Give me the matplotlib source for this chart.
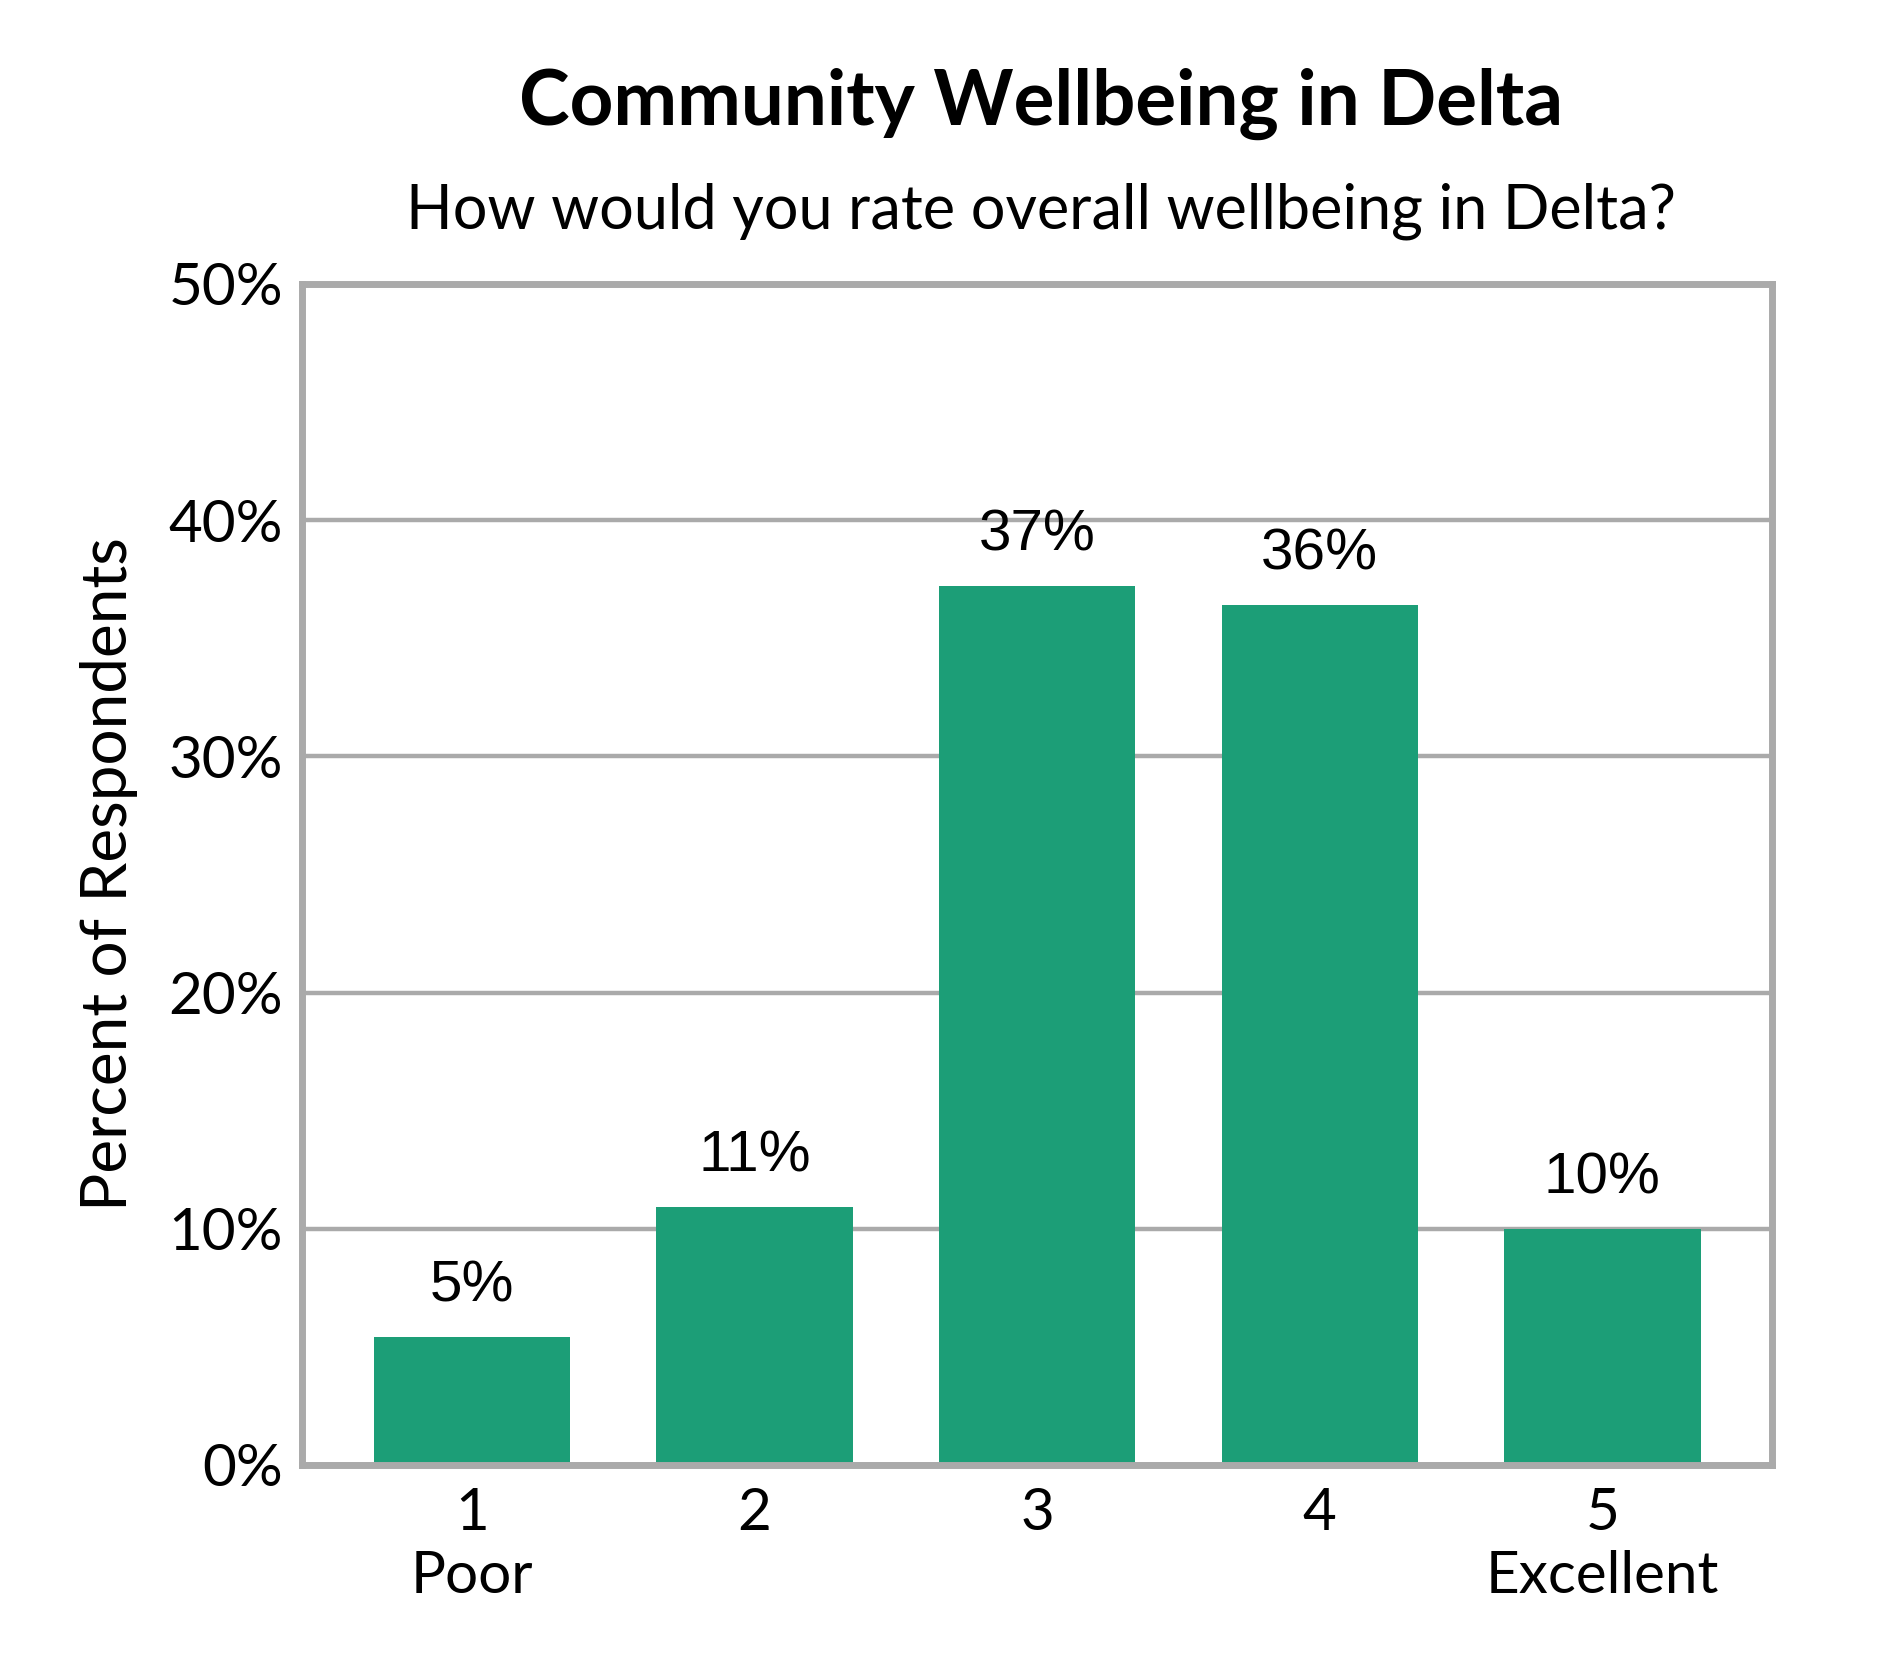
import matplotlib.pyplot as plt
from matplotlib.ticker import PercentFormatter

ratings = [1, 2, 3, 4, 5]
tick_labels = ["1\nPoor", "2", "3", "4", "5\nExcellent"]
percents = [5.4, 10.9, 37.2, 36.4, 10.0]
value_labels = ["5%", "11%", "37%", "36%", "10%"]

bar_color = "#1c9e77"
grey = "#aaaaaa"

fig = plt.figure(figsize=(18.9, 16.8), dpi=100)
ax = fig.add_axes([0.160, 0.128, 0.7775, 0.703])

ax.bar(ratings, percents, width=0.695, color=bar_color, zorder=3)
for x, y, lab in zip(ratings, percents, value_labels):
    ax.annotate(lab, (x, y), xytext=(0, 17), textcoords="offset points",
                ha="center", va="bottom", fontsize=42, family="Liberation Sans")

ax.set_xlim(0.4, 5.6)
ax.set_ylim(0, 50)
ax.set_yticks([0, 10, 20, 30, 40, 50])
ax.yaxis.set_major_formatter(PercentFormatter(decimals=0))
ax.set_xticks(ratings)
ax.set_xticklabels(tick_labels, linespacing=1.22)
ax.tick_params(axis="both", length=0, labelsize=42)
ax.tick_params(axis="x", pad=16)
ax.tick_params(axis="y", pad=14)
for lab in ax.get_xticklabels() + ax.get_yticklabels():
    lab.set_family("Lato")

ax.grid(axis="y", color=grey, linewidth=3.2, zorder=1)
for sp in ax.spines.values():
    sp.set_color(grey)
    sp.set_linewidth(5)
    sp.set_zorder(4)

ax.set_ylabel("Percent of Respondents", fontsize=46, family="Lato")
ax.yaxis.set_label_coords(-0.112, 0.5)

fig.text(0.551, 0.926, "Community Wellbeing in Delta", ha="center", va="baseline",
         fontsize=55, fontweight="bold", family="Lato")
fig.text(0.551, 0.864, "How would you rate overall wellbeing in Delta?", ha="center",
         va="baseline", fontsize=44, family="Lato")

fig.savefig("out.png", dpi=100)
